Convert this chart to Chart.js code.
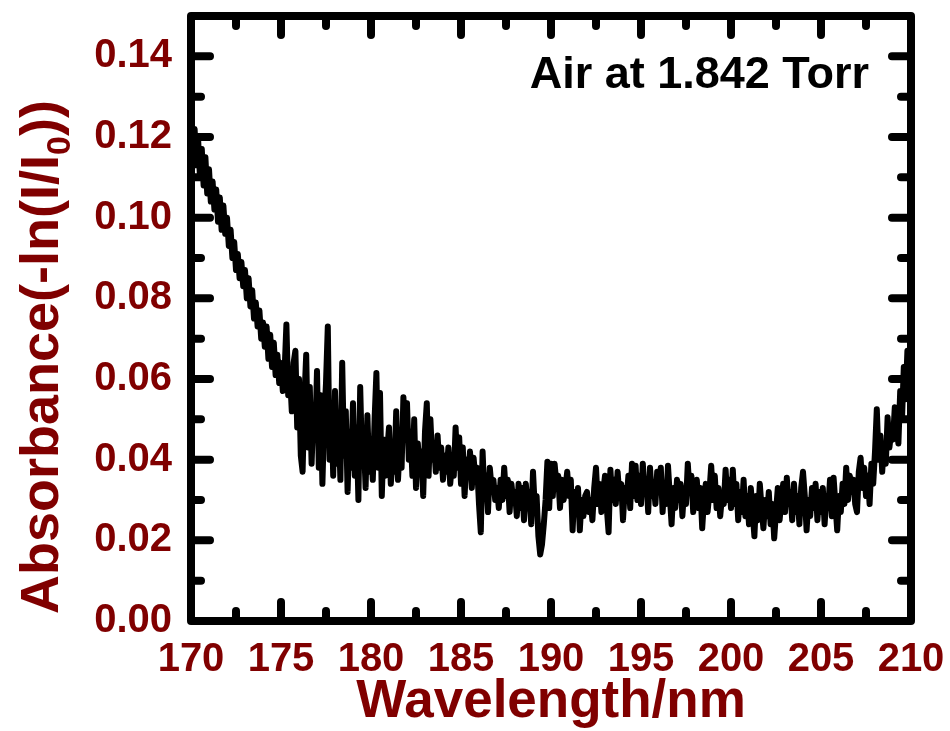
<!DOCTYPE html>
<html>
<head>
<meta charset="utf-8">
<title>Air absorbance</title>
<script src="https://cdn.jsdelivr.net/npm/chart.js@4.4.0/dist/chart.umd.min.js"></script>
<style>
  html, body { margin: 0; padding: 0; background: #fff; }
  #wrap { width: 950px; height: 731px; }
</style>
</head>
<body>
<div id="wrap"><canvas id="spectrum" width="950" height="731"></canvas></div>
<script>
// spectrum sampled every 0.1 nm from 170 nm
const startWavelength = 170.0;
const stepWavelength = 0.1;

const absorbance = [
  0.124, 0.117, 0.122, 0.113, 0.119, 0.110, 0.117, 0.108, 0.115, 0.106,
  0.112, 0.104, 0.109, 0.102, 0.107, 0.099, 0.105, 0.097, 0.103, 0.096,
  0.100, 0.093, 0.097, 0.090, 0.094, 0.087, 0.091, 0.085, 0.089, 0.083,
  0.087, 0.080, 0.085, 0.078, 0.082, 0.075, 0.079, 0.073, 0.077, 0.070,
  0.074, 0.068, 0.073, 0.065, 0.071, 0.063, 0.069, 0.061, 0.066, 0.059,
  0.064, 0.057, 0.062, 0.0735, 0.056, 0.061, 0.052, 0.064, 0.067, 0.048,
  0.060, 0.041, 0.037, 0.055, 0.066, 0.043, 0.058, 0.039, 0.052, 0.045,
  0.062, 0.038, 0.056, 0.034, 0.050, 0.059, 0.073, 0.040, 0.054, 0.036,
  0.057, 0.039, 0.050, 0.035, 0.064, 0.041, 0.052, 0.032, 0.047, 0.038,
  0.054, 0.036, 0.048, 0.030, 0.058, 0.040, 0.045, 0.033, 0.051, 0.037,
  0.044, 0.035, 0.050, 0.0615, 0.038, 0.0565, 0.031, 0.045, 0.036, 0.042,
  0.048, 0.034, 0.040, 0.037, 0.052, 0.035, 0.044, 0.038, 0.0555, 0.046,
  0.054, 0.040, 0.047, 0.036, 0.050, 0.033, 0.044, 0.038, 0.042, 0.031,
  0.047, 0.054, 0.036, 0.050, 0.040, 0.044, 0.037, 0.046, 0.038, 0.043,
  0.035, 0.041, 0.037, 0.043, 0.034, 0.039, 0.036, 0.048, 0.038, 0.0455,
  0.034, 0.043, 0.031, 0.040, 0.036, 0.042, 0.033, 0.0405, 0.035, 0.038,
  0.029, 0.022, 0.042, 0.031, 0.036, 0.027, 0.038, 0.033, 0.035, 0.030,
  0.033, 0.028, 0.035, 0.030, 0.038, 0.031, 0.035, 0.027, 0.034, 0.030,
  0.032, 0.026, 0.034, 0.028, 0.033, 0.025, 0.034, 0.029, 0.032, 0.024,
  0.037, 0.028, 0.031, 0.021, 0.0165, 0.019, 0.024, 0.030, 0.0395, 0.028,
  0.039, 0.031, 0.039, 0.034, 0.036, 0.028, 0.035, 0.030, 0.033, 0.037,
  0.031, 0.035, 0.0225, 0.032, 0.028, 0.033, 0.0225, 0.030, 0.026, 0.031,
  0.032, 0.027, 0.030, 0.025, 0.033, 0.038, 0.029, 0.034, 0.027, 0.032,
  0.036, 0.028, 0.022, 0.0375, 0.030, 0.035, 0.029, 0.037, 0.031, 0.034,
  0.025, 0.033, 0.030, 0.036, 0.028, 0.039, 0.031, 0.0385, 0.030, 0.036,
  0.029, 0.039, 0.032, 0.035, 0.027, 0.038, 0.031, 0.034, 0.029, 0.037,
  0.032, 0.038, 0.027, 0.034, 0.029, 0.0385, 0.031, 0.024, 0.033, 0.028,
  0.035, 0.030, 0.034, 0.026, 0.033, 0.029, 0.039, 0.032, 0.036, 0.027,
  0.031, 0.035, 0.028, 0.033, 0.023, 0.030, 0.034, 0.027, 0.032, 0.0385,
  0.030, 0.036, 0.028, 0.033, 0.026, 0.031, 0.029, 0.0375, 0.030, 0.035,
  0.028, 0.0375, 0.029, 0.034, 0.025, 0.032, 0.027, 0.035, 0.026, 0.031,
  0.024, 0.033, 0.027, 0.021, 0.031, 0.025, 0.034, 0.028, 0.023, 0.030,
  0.026, 0.032, 0.024, 0.029, 0.0205, 0.027, 0.033, 0.025, 0.030, 0.034,
  0.027, 0.0355, 0.029, 0.032, 0.025, 0.034, 0.027, 0.031, 0.024, 0.033,
  0.037, 0.031, 0.0225, 0.030, 0.026, 0.033, 0.028, 0.034, 0.025, 0.032,
  0.027, 0.033, 0.024, 0.031, 0.028, 0.035, 0.026, 0.0355, 0.029, 0.0225,
  0.031, 0.027, 0.034, 0.029, 0.038, 0.030, 0.036, 0.032, 0.035, 0.029,
  0.027, 0.037, 0.0405, 0.033, 0.038, 0.031, 0.036, 0.029, 0.039, 0.034,
  0.042, 0.0525, 0.040, 0.046, 0.037, 0.044, 0.039, 0.0505, 0.043, 0.047,
  0.045, 0.053, 0.048, 0.044, 0.057, 0.050, 0.063, 0.055, 0.067, 0.060,
  0.066
];

const wavelengths = absorbance.map((_, i) => +(startWavelength + i * stepWavelength).toFixed(1));

const xTicks = [170, 175, 180, 185, 190, 195, 200, 205, 210];
const xMinorTicks = [172.5, 177.5, 182.5, 187.5, 192.5, 197.5, 202.5, 207.5];
const yTicks = [0.00, 0.02, 0.04, 0.06, 0.08, 0.10, 0.12, 0.14];
const yMinorTicks = [0.01, 0.03, 0.05, 0.07, 0.09, 0.11, 0.13];

const sampleLabel = 'Air at 1.842 Torr';
const xTitle = 'Wavelength/nm';
const yTitleMain = 'Absorbance(-ln(I/I';
const yTitleSub = '0';
const yTitleEnd = '))';

const maroon = '#800000';
const fontFamily = '"Liberation Sans", Arial, Helvetica, sans-serif';

// box with inward ticks on all four sides
const framePlugin = {
  id: 'frame',
  afterDatasetsDraw(chart) {
    const { ctx, chartArea: a, scales: { x, y } } = chart;
    const major = 19, minor = 10;
    ctx.save();
    ctx.strokeStyle = '#000';
    ctx.lineWidth = 8;
    ctx.lineCap = 'round';
    ctx.lineJoin = 'round';
    ctx.strokeRect(a.left, a.top, a.right - a.left, a.bottom - a.top);
    ctx.beginPath();
    const vTick = (v, len) => {
      const px = x.getPixelForValue(v);
      ctx.moveTo(px, a.bottom); ctx.lineTo(px, a.bottom - len);
      ctx.moveTo(px, a.top); ctx.lineTo(px, a.top + len);
    };
    const hTick = (v, len) => {
      const py = y.getPixelForValue(v);
      ctx.moveTo(a.left, py); ctx.lineTo(a.left + len, py);
      ctx.moveTo(a.right, py); ctx.lineTo(a.right - len, py);
    };
    xTicks.slice(1, -1).forEach(v => vTick(v, major));
    xMinorTicks.forEach(v => vTick(v, minor));
    yTicks.slice(1).forEach(v => hTick(v, major));
    yMinorTicks.forEach(v => hTick(v, minor));
    ctx.stroke();
    ctx.restore();
  }
};

// rotated y title with subscript, and the sample label
const labelsPlugin = {
  id: 'labels',
  afterDraw(chart) {
    const { ctx, chartArea: a } = chart;
    ctx.save();
    ctx.translate(58, 614);
    ctx.rotate(-Math.PI / 2);
    ctx.fillStyle = maroon;
    ctx.textAlign = 'left';
    ctx.textBaseline = 'alphabetic';
    ctx.font = 'bold 54px ' + fontFamily;
    ctx.fillText(yTitleMain, 0, 0);
    let w = ctx.measureText(yTitleMain).width;
    ctx.font = 'bold 34px ' + fontFamily;
    ctx.fillText(yTitleSub, w, 12);
    w += ctx.measureText(yTitleSub).width;
    ctx.font = 'bold 54px ' + fontFamily;
    ctx.fillText(yTitleEnd, w, 0);
    ctx.restore();

    ctx.save();
    ctx.fillStyle = '#000';
    ctx.font = 'bold 45px ' + fontFamily;
    ctx.textAlign = 'right';
    ctx.textBaseline = 'alphabetic';
    ctx.fillText(sampleLabel, a.right - 42, 88);
    ctx.restore();
  }
};

new Chart(document.getElementById('spectrum'), {
  type: 'line',
  data: {
    datasets: [{
      data: wavelengths.map((w, i) => ({ x: w, y: absorbance[i] })),
      borderColor: '#000',
      borderWidth: 6,
      borderJoinStyle: 'round',
      borderCapStyle: 'round',
      pointRadius: 0,
      tension: 0,
      fill: false
    }]
  },
  options: {
    responsive: false,
    animation: false,
    devicePixelRatio: 1,
    layout: { padding: { top: 16, right: 39, left: 0, bottom: 0 } },
    plugins: {
      legend: { display: false },
      tooltip: { enabled: false }
    },
    scales: {
      x: {
        type: 'linear',
        min: 170,
        max: 210,
        afterFit(scale) {
          scale.height = 110;
          scale.paddingLeft = 0;
          scale.paddingRight = 0;
        },
        afterBuildTicks(scale) { scale.ticks = xTicks.map(v => ({ value: v })); },
        grid: { display: false, drawTicks: false },
        border: { display: false },
        ticks: {
          color: maroon,
          padding: 19,
          maxRotation: 0,
          font: { family: fontFamily, size: 40, weight: 'bold', lineHeight: 1 },
          callback: v => String(v)
        },
        title: {
          display: true,
          text: xTitle,
          color: maroon,
          padding: { top: 0, bottom: 2 },
          font: { family: fontFamily, size: 53, weight: 'bold', lineHeight: 1 }
        }
      },
      y: {
        min: 0,
        max: 0.15,
        afterFit(scale) {
          scale.width = 191;
          scale.paddingTop = 0;
          scale.paddingBottom = 0;
        },
        afterBuildTicks(scale) { scale.ticks = yTicks.map(v => ({ value: v })); },
        grid: { display: false, drawTicks: false },
        border: { display: false },
        ticks: {
          color: maroon,
          padding: 19,
          font: { family: fontFamily, size: 40, weight: 'bold', lineHeight: 1 },
          callback: v => v.toFixed(2)
        }
      }
    }
  },
  plugins: [framePlugin, labelsPlugin]
});
</script>
</body>
</html>
